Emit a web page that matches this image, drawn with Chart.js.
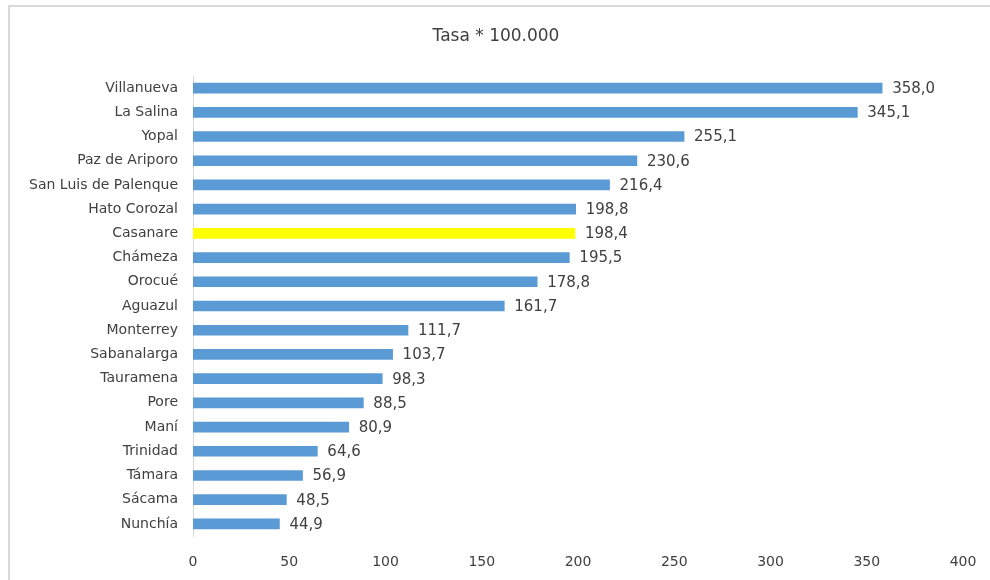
<!DOCTYPE html>
<html>
<head>
<meta charset="utf-8">
<script src="https://cdn.jsdelivr.net/npm/chart.js@4"></script>
<style>
  html, body { margin: 0; padding: 0; background: #fff; overflow: hidden; }
  #wrap { position: relative; width: 990px; height: 580px; overflow: hidden; }
  #frame { position: absolute; left: 8px; top: 5px; width: 1000px; height: 600px;
           border-left: 2px solid #d9d9d9; border-top: 2px solid #d9d9d9; }
  canvas { position: absolute; left: 0; top: 0; }
</style>
</head>
<body>
<div id="wrap">
  <div id="frame"></div>
  <canvas id="chart" width="990" height="580"></canvas>
</div>
<script>
const municipios = ['Villanueva', 'La Salina', 'Yopal', 'Paz de Ariporo', 'San Luis de Palenque',
  'Hato Corozal', 'Casanare', 'Chámeza', 'Orocué', 'Aguazul', 'Monterrey', 'Sabanalarga',
  'Tauramena', 'Pore', 'Maní', 'Trinidad', 'Támara', 'Sácama', 'Nunchía'];
const tasas = [358.0, 345.1, 255.1, 230.6, 216.4, 198.8, 198.4, 195.5, 178.8, 161.7,
  111.7, 103.7, 98.3, 88.5, 80.9, 64.6, 56.9, 48.5, 44.9];
const xTicks = [0, 50, 100, 150, 200, 250, 300, 350, 400];
const titulo = 'Tasa * 100.000';

const azul = '#5b9bd5';
const amarillo = '#ffff00';
const texto = '#404040';
const fuente = 'DejaVu Sans';

// departmental total is highlighted in yellow
const colores = municipios.map(m => m === 'Casanare' ? amarillo : azul);

const etiquetas = {
  id: 'etiquetas',
  afterDatasetsDraw(chart) {
    const ctx = chart.ctx;
    const meta = chart.getDatasetMeta(0);
    ctx.save();
    ctx.font = '15px "' + fuente + '"';
    ctx.fillStyle = texto;
    ctx.textAlign = 'left';
    ctx.textBaseline = 'middle';
    meta.data.forEach((bar, i) => {
      const txt = tasas[i].toFixed(1).replace('.', ',');
      ctx.fillText(txt, bar.x + 10, bar.y + 1);
    });
    // title
    ctx.font = '17px "' + fuente + '"';
    ctx.textAlign = 'center';
    ctx.fillText(titulo, 496, 37);
    ctx.restore();
  }
};

new Chart(document.getElementById('chart'), {
  type: 'bar',
  data: {
    labels: municipios,
    datasets: [{
      data: tasas,
      backgroundColor: colores,
      barThickness: 10
    }]
  },
  options: {
    indexAxis: 'y',
    responsive: false,
    animation: false,
    layout: { padding: { left: 0, right: 27, top: 76, bottom: 0 } },
    plugins: {
      legend: { display: false },
      tooltip: { enabled: false }
    },
    scales: {
      x: {
        min: 0,
        max: 400,
        afterBuildTicks: scale => { scale.ticks = xTicks.map(v => ({ value: v })); },
        afterFit: scale => {
          scale.height = 44;
          scale.paddingLeft = 0;
          scale.paddingRight = 0;
        },
        grid: { display: false, drawTicks: false },
        border: { display: false },
        ticks: {
          padding: 18,
          color: texto,
          font: { family: fuente, size: 14 }
        }
      },
      y: {
        afterFit: scale => { scale.width = 193; },
        grid: { display: false, drawTicks: false },
        border: { display: true, color: '#d9d9d9', width: 1 },
        ticks: {
          padding: 15,
          color: texto,
          font: { family: fuente, size: 14 }
        }
      }
    }
  },
  plugins: [etiquetas]
});
</script>
</body>
</html>
